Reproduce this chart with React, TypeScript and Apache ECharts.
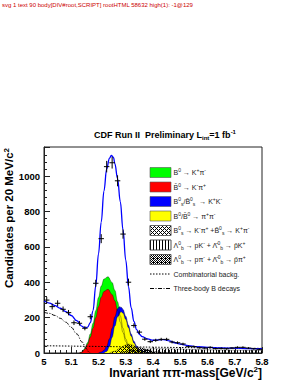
import React, { useEffect, useRef } from "react";
import * as echarts from "echarts";

// ---- data ----
const binCenters = [5.01, 5.03, 5.05, 5.07, 5.09, 5.11, 5.13, 5.15, 5.17, 5.19, 5.21, 5.23, 5.25, 5.27, 5.29, 5.31, 5.33, 5.35, 5.37, 5.39, 5.41, 5.43, 5.45, 5.47, 5.49, 5.51, 5.53, 5.55, 5.57, 5.59, 5.61, 5.63, 5.65, 5.67, 5.69, 5.71, 5.73, 5.75, 5.77, 5.79];
const counts = [299, 262, 281, 247, 228, 171, 168, 140, 205, 394, 646, 1053, 1075, 973, 672, 400, 155, 118, 78, 64, 72, 77, 77, 62, 58, 51, 36, 36, 30, 28, 32, 25, 26, 24, 28, 32, 32, 28, 24, 21];

const fitX = [5.0, 5.02, 5.04, 5.06, 5.08, 5.10, 5.12, 5.14, 5.15, 5.16, 5.17, 5.18, 5.19, 5.20, 5.21, 5.22, 5.23, 5.24, 5.247, 5.255, 5.26, 5.27, 5.28, 5.29, 5.30, 5.31, 5.32, 5.33, 5.34, 5.35, 5.36, 5.38, 5.40, 5.42, 5.44, 5.46, 5.48, 5.50, 5.53, 5.56, 5.60, 5.65, 5.70, 5.75, 5.80];
const fitY = [295, 282, 268, 253, 234, 212, 183, 150, 142, 146, 172, 240, 380, 560, 740, 915, 1040, 1100, 1116, 1105, 1070, 985, 855, 695, 525, 375, 255, 178, 132, 106, 92, 80, 72, 74, 76, 68, 58, 50, 42, 36, 32, 29, 27, 25, 24];

const kpiX = [5.13, 5.14, 5.15, 5.16, 5.17, 5.18, 5.19, 5.20, 5.21, 5.22, 5.235, 5.25, 5.26, 5.27, 5.28, 5.29, 5.30, 5.31, 5.32, 5.34, 5.36];
const greenY = [0, 6, 27, 60, 108, 168, 240, 314, 378, 418, 431, 398, 354, 290, 210, 140, 80, 40, 16, 3, 0];
const redY = [0, 5, 22, 50, 90, 140, 200, 262, 315, 348, 360, 330, 295, 240, 175, 115, 65, 32, 13, 2, 0];

const kkX = [5.20, 5.21, 5.22, 5.23, 5.24, 5.25, 5.26, 5.27, 5.277, 5.285, 5.29, 5.30, 5.31, 5.32, 5.33, 5.34, 5.35, 5.36, 5.38, 5.40];
const kkY = [0, 5, 15, 38, 80, 140, 205, 250, 262, 257, 246, 208, 158, 108, 67, 40, 21, 9, 2, 0];
const pipiX = [5.22, 5.23, 5.24, 5.25, 5.26, 5.27, 5.283, 5.29, 5.30, 5.31, 5.32, 5.33, 5.34, 5.35, 5.36, 5.38, 5.40];
const pipiY = [0, 8, 35, 88, 152, 205, 233, 225, 190, 142, 95, 57, 31, 15, 6, 1, 0];

const bsKpiX = [5.24, 5.26, 5.28, 5.30, 5.31, 5.32, 5.33, 5.34, 5.36, 5.38, 5.40];
const bsKpiY = [0, 10, 28, 45, 50, 48, 40, 28, 12, 4, 0];
const lbPiX = [5.28, 5.30, 5.32, 5.34, 5.35, 5.36, 5.38, 5.40, 5.42, 5.45, 5.50];
const lbPiY = [0, 8, 20, 30, 31, 28, 18, 10, 5, 2, 0];
const lbKX = [5.30, 5.33, 5.36, 5.40, 5.45, 5.50, 5.55, 5.60, 5.65, 5.70, 5.75, 5.80];
const lbKY = [0, 10, 20, 24, 24, 22, 20, 18, 17, 16, 15, 14];

const combX = [5.0, 5.2, 5.4, 5.6, 5.8];
const combY = [41, 37, 33, 29, 26];
const threeBodyX = [5.0, 5.02, 5.04, 5.06, 5.08, 5.10, 5.12, 5.14, 5.155, 5.165, 5.17];
const threeBodyY = [230, 224, 212, 196, 174, 145, 108, 62, 25, 5, 0];

const xTicks = { min: 5, max: 5.8, interval: 0.1 };
const yTicks = { min: 0, max: 1164, interval: 200 };

const legendItems = [
  "B{sup|0} → K{sup|+}π{sup|-}",
  "B\u0304{sup|0} → K{sup|-}π{sup|+}",
  "B{sup|0}{sub|s}/B\u0304{sup|0}{sub|s}  → K{sup|+}K{sup|-}",
  "B{sup|0}/B\u0304{sup|0} → π{sup|+}π{sup|-}",
  "B{sup|0}{sub|s} → K{sup|-}π{sup|+} +B\u0304{sup|0}{sub|s} → K{sup|+}π{sup|-}",
  "Λ{sup|0}{sub|b} → pK{sup|-} + Λ\u0304{sup|0}{sub|b} → p\u0304K{sup|+}",
  "Λ{sup|0}{sub|b} → pπ{sup|-} + Λ\u0304{sup|0}{sub|b} → p\u0304π{sup|+}",
  "Combinatorial backg.",
  "Three-body B decays",
];

const FONT = "'Liberation Sans', Arial, Helvetica, sans-serif";

function pairs(xs: number[], ys: number[]) {
  return xs.map((x, i) => [x, ys[i]]);
}

function makePattern(kind: string) {
  const size = kind === "vert" ? 3 : 4;
  const c = document.createElement("canvas");
  c.width = size;
  c.height = size;
  const ctx = c.getContext("2d")!;
  ctx.fillStyle = "#000";
  for (let i = 0; i < size; i++) {
    for (let j = 0; j < size; j++) {
      let on = false;
      if (kind === "cross") on = (i + j) % 4 === 0 || (i - j + 4) % 4 === 0;
      if (kind === "vert") on = i === 0;
      if (kind === "dense") on = (i + j) % 2 === 0 || (i === 1 && j === 2);
      if (on) ctx.fillRect(i, j, 1, 1);
    }
  }
  return { image: c, repeat: "repeat", imageWidth: size, imageHeight: size } as any;
}

export default function App() {
  const ref = useRef<HTMLDivElement>(null);
  useEffect(() => {
    if (!ref.current) return;
    const chart = echarts.init(ref.current, undefined, { renderer: "svg" });
    const patCross = makePattern("cross");
    const patVert = makePattern("vert");
    const patDense = makePattern("dense");

    const rich = {
      n: { fontSize: 7, fontFamily: FONT, color: "#222", verticalAlign: "middle", lineHeight: 10 },
      sup: { fontSize: 5, fontFamily: FONT, color: "#222", verticalAlign: "top", lineHeight: 10 },
      sub: { fontSize: 5, fontFamily: FONT, color: "#222", verticalAlign: "bottom", lineHeight: 10 },
    };
    const wrapN = (s: string) =>
      s.split(/(\{su[pb]\|[^}]*\})/).filter((p) => p.length).map((p) => (p.startsWith("{") ? p : `{n|${p}}`)).join("");

    const legendY0 = 172.5;
    const legendDy = 14.5;
    const swatchFills: any[] = ["#00ff00", "#ff0000", "#0000ff", "#ffff00", patCross, patVert, patDense];
    const legendGraphics: any[] = [];
    legendItems.forEach((txt, i) => {
      const cy = legendY0 + i * legendDy;
      if (i < 7) {
        legendGraphics.push({
          type: "rect",
          shape: { x: 150, y: cy - 5, width: 21, height: 10 },
          style: { fill: i >= 4 ? "#fff" : swatchFills[i], stroke: "#555", lineWidth: 0.6 },
        });
        if (i >= 4) {
          legendGraphics.push({
            type: "rect",
            shape: { x: 150, y: cy - 5, width: 21, height: 10 },
            style: { fill: swatchFills[i], stroke: "#555", lineWidth: 0.6 },
          });
        }
      } else {
        legendGraphics.push({
          type: "line",
          shape: { x1: 150, y1: cy, x2: 171, y2: cy },
          style: { stroke: "#000", lineWidth: 1, lineDash: i === 7 ? [1.5, 1.5] : [4, 1.5, 1, 1.5] },
        });
      }
      legendGraphics.push({
        type: "text",
        x: 173.5,
        y: cy,
        style: { text: wrapN(txt), rich, textVerticalAlign: "middle", verticalAlign: "middle", fill: "#222" },
      });
    });

    const areaLine = (name: string, xs: number[], ys: number[], fill: any, z = 2) => ({
      name,
      type: "line",
      data: pairs(xs, ys),
      smooth: 0.4,
      smoothMonotone: "x",
      showSymbol: false,
      symbol: "none",
      z,
      lineStyle: { color: "#000", width: 0.5, opacity: 0.7 },
      areaStyle: { color: fill, opacity: 1 },
    });

    chart.setOption({
      animation: false,
      grid: { left: 44, right: 36, top: 147, bottom: 32, show: true, borderColor: "#222", borderWidth: 1, backgroundColor: "transparent" },
      xAxis: {
        type: "value",
        min: xTicks.min,
        max: xTicks.max,
        interval: xTicks.interval,
        axisLine: { show: true, lineStyle: { color: "#222" } },
        axisTick: { show: true, inside: true, length: 6, lineStyle: { color: "#222" } },
        minorTick: { show: true, splitNumber: 5, length: 3, lineStyle: { color: "#222" } },
        splitLine: { show: false },
        axisLabel: {
          color: "#000",
          fontWeight: "bold",
          fontSize: 9.5,
          fontFamily: FONT,
          margin: 3,
          formatter: (v: number) => String(Number(v.toFixed(1))),
        },
      },
      yAxis: {
        type: "value",
        min: yTicks.min,
        max: yTicks.max,
        interval: yTicks.interval,
        axisLine: { show: true, lineStyle: { color: "#222" } },
        axisTick: { show: true, inside: true, length: 6, lineStyle: { color: "#222" } },
        minorTick: { show: true, splitNumber: 5, length: 3, lineStyle: { color: "#222" } },
        splitLine: { show: false },
        axisLabel: {
          color: "#000",
          fontWeight: "bold",
          fontSize: 9.5,
          fontFamily: FONT,
          margin: 4,
          showMaxLabel: false,
          formatter: (v: number) => (v % 200 === 0 ? String(v) : ""),
        },
      },
      graphic: [
        {
          type: "text",
          x: 165,
          y: 135,
          style: {
            text: "{t|CDF Run II  Preliminary L}{ts|int}{t|=1 fb}{tp|-1}",
            rich: {
              t: { fontSize: 9, fontWeight: "bold", fontFamily: FONT, color: "#000", verticalAlign: "middle", lineHeight: 12 },
              ts: { fontSize: 6, fontWeight: "bold", fontFamily: FONT, color: "#000", verticalAlign: "bottom", lineHeight: 12 },
              tp: { fontSize: 6, fontWeight: "bold", fontFamily: FONT, color: "#000", verticalAlign: "top", lineHeight: 12 },
            },
            textAlign: "center",
            textVerticalAlign: "middle",
            align: "center",
            verticalAlign: "middle",
          },
        },
        {
          type: "text",
          x: 9,
          y: 218,
          rotation: Math.PI / 2,
          style: {
            text: "{a|Candidates per 20 MeV/c}{s|2}",
            rich: {
              a: { fontSize: 11.5, fontWeight: "bold", fontFamily: FONT, color: "#000", verticalAlign: "middle", lineHeight: 14 },
              s: { fontSize: 8, fontWeight: "bold", fontFamily: FONT, color: "#000", verticalAlign: "top", lineHeight: 14 },
            },
            textAlign: "center",
            textVerticalAlign: "middle",
            align: "center",
            verticalAlign: "middle",
          },
        },
        {
          type: "text",
          x: 262,
          y: 373,
          style: {
            text: "{a|Invariant ππ-mass[GeV/c}{s|2}{a|]}",
            rich: {
              a: { fontSize: 12, fontWeight: "bold", fontFamily: FONT, color: "#000", verticalAlign: "middle", lineHeight: 15 },
              s: { fontSize: 8, fontWeight: "bold", fontFamily: FONT, color: "#000", verticalAlign: "top", lineHeight: 15 },
            },
            textAlign: "right",
            textVerticalAlign: "middle",
            align: "right",
            verticalAlign: "middle",
          },
        },
        ...legendGraphics,
      ],
      series: [
        areaLine("B0 → K+π-", kpiX, greenY, "#00ff00"),
        areaLine("B0bar → K-π+", kpiX, redY, "#ff0000"),
        areaLine("Bs → K+K-", kkX, kkY, "#0000ff"),
        areaLine("B → π+π-", pipiX, pipiY, "#ffff00"),
        areaLine("Bs → Kπ", bsKpiX, bsKpiY, patCross, 3),
        areaLine("Λb → pK", lbKX, lbKY, patVert, 3),
        areaLine("Λb → pπ", lbPiX, lbPiY, patDense, 3),
        {
          name: "Combinatorial backg.",
          type: "line",
          data: pairs(combX, combY),
          smooth: true,
          showSymbol: false,
          symbol: "none",
          z: 4,
          lineStyle: { color: "#000", width: 1, type: [1.5, 1.5] },
        },
        {
          name: "Three-body B decays",
          type: "line",
          data: pairs(threeBodyX, threeBodyY),
          smooth: 0.4,
          smoothMonotone: "x",
          showSymbol: false,
          symbol: "none",
          z: 4,
          lineStyle: { color: "#000", width: 1, type: [4, 1.5, 1, 1.5] },
        },
        {
          name: "Fit",
          type: "line",
          data: pairs(fitX, fitY),
          smooth: 0.4,
          smoothMonotone: "x",
          showSymbol: false,
          symbol: "none",
          z: 5,
          lineStyle: { color: "#0000ff", width: 1.3 },
        },
        {
          name: "Data",
          type: "custom",
          z: 6,
          data: binCenters.map((x, i) => [x, counts[i]]),
          encode: { x: 0, y: 1 },
          renderItem: (params: any, api: any) => {
            const x = api.value(0);
            const y = api.value(1);
            const e = Math.sqrt(y);
            const l = api.coord([x - 0.01, y]);
            const r = api.coord([x + 0.01, y]);
            const t = api.coord([x, y + e]);
            const b = api.coord([x, y - e]);
            return {
              type: "group",
              children: [
                { type: "line", shape: { x1: l[0], y1: l[1], x2: r[0], y2: r[1] }, style: { stroke: "#000", lineWidth: 1 } },
                { type: "line", shape: { x1: t[0], y1: t[1], x2: b[0], y2: b[1] }, style: { stroke: "#000", lineWidth: 1 } },
              ],
            };
          },
        },
      ],
    });
    const timer = setTimeout(() => {
      const svgs = document.querySelectorAll("svg").length;
      const texts = Array.from(document.querySelectorAll("text"));
      const high = texts
        .filter((t: any) => t.getBoundingClientRect().y < 130)
        .map((t: any) => `${(t.textContent || "").slice(0, 6)}@${Math.round(t.getBoundingClientRect().y)}`);
      const bodyKids = Array.from(document.body.children).map((e: any) => e.tagName + (e.id ? "#" + e.id : "")).join(",");
      const rootKids = document.getElementById("root")?.innerHTML.length;
      const msg = `svg ${svgs} text ${texts.length} body[${bodyKids}] rootHTML ${rootKids} high(${high.length}): ${high.slice(0, 12).join(" ")}`;
      chart.getZr().add(
        new (echarts as any).graphic.Text({
          style: { text: msg, x: 2, y: 2, width: 290, overflow: "break", fontSize: 6, fill: "#c00" },
          z: 100,
        })
      );
    }, 300);
    return () => {
      clearTimeout(timer);
      chart.dispose();
    };
  }, []);
  return <div ref={ref} style={{ position: "fixed", left: 0, top: 0, width: 298, height: 385, background: "#fff" }} />;
}
